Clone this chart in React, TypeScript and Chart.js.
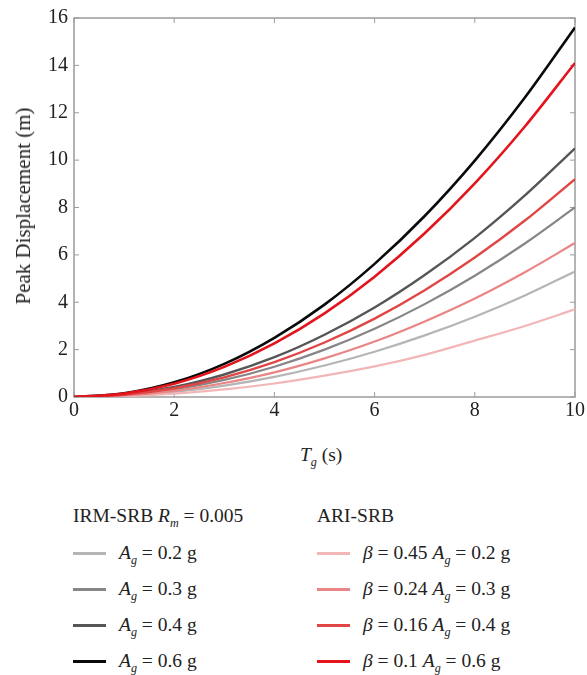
import React, { useEffect, useLayoutEffect, useRef } from "react";
import { Chart, registerables } from "chart.js";

Chart.register(...registerables);

// Periods T_g (s)
const periods = [0, 1, 2, 3, 4, 5, 6, 7, 8, 9, 10];

// IRM-SRB R_m = 0.005
const irmAg02 = [0, 0.05, 0.21, 0.48, 0.85, 1.33, 1.91, 2.6, 3.39, 4.29, 5.3];
const irmAg03 = [0, 0.08, 0.32, 0.72, 1.28, 2.0, 2.88, 3.92, 5.12, 6.48, 8.0];
const irmAg04 = [0, 0.105, 0.42, 0.95, 1.68, 2.63, 3.78, 5.15, 6.72, 8.51, 10.5];
const irmAg06 = [0, 0.156, 0.62, 1.4, 2.5, 3.9, 5.62, 7.64, 9.98, 12.64, 15.6];

// ARI-SRB
const ariB045 = [0, 0.035, 0.14, 0.32, 0.57, 0.9, 1.29, 1.78, 2.38, 3.0, 3.7];
const ariB024 = [0, 0.065, 0.26, 0.59, 1.04, 1.63, 2.34, 3.19, 4.16, 5.27, 6.5];
const ariB016 = [0, 0.092, 0.37, 0.83, 1.47, 2.3, 3.31, 4.51, 5.89, 7.45, 9.2];
const ariB01 = [0, 0.141, 0.56, 1.27, 2.26, 3.53, 5.08, 6.91, 9.02, 11.42, 14.1];

const xTicks = [0, 2, 4, 6, 8, 10];
const yTicks = [0, 2, 4, 6, 8, 10, 12, 14, 16];

const C_LG = "#b5b5b5";
const C_G = "#868686";
const C_DG = "#565656";
const C_BK = "#0a0a0a";
const C_R1 = "#f2b6b6";
const C_R2 = "#ea8585";
const C_R3 = "#e14646";
const C_R4 = "#e3141c";

const FONT = "'Liberation Serif', 'Times New Roman', serif";

const toPts = (ys: number[]) => periods.map((x, i) => ({ x, y: ys[i] }));

const framePlugin = {
  id: "framePlugin",
  beforeDatasetsDraw(chart: any) {
    const { ctx, chartArea: a, scales } = chart;
    const xs = scales.x;
    const ys = scales.y;
    ctx.save();
    ctx.strokeStyle = "#9c9c9c";
    ctx.lineWidth = 1.5;
    ctx.strokeRect(a.left, a.top, a.right - a.left, a.bottom - a.top);
    ctx.lineWidth = 1;
    const L = 5;
    xTicks.forEach((v) => {
      const px = xs.getPixelForValue(v);
      ctx.beginPath();
      ctx.moveTo(px, a.bottom);
      ctx.lineTo(px, a.bottom - L);
      ctx.moveTo(px, a.top);
      ctx.lineTo(px, a.top + L);
      ctx.stroke();
    });
    yTicks.forEach((v) => {
      const py = ys.getPixelForValue(v);
      ctx.beginPath();
      ctx.moveTo(a.left, py);
      ctx.lineTo(a.left + L, py);
      ctx.moveTo(a.right, py);
      ctx.lineTo(a.right - L, py);
      ctx.stroke();
    });
    ctx.restore();
  },
};

function Sub({ base, sub }: { base: string; sub: string }) {
  return (
    <span>
      <span style={{ fontStyle: "italic" }}>{base}</span>
      <span style={{ fontStyle: "italic", fontSize: "0.62em", verticalAlign: "-0.38em" }}>{sub}</span>
    </span>
  );
}

export default function App() {
  const ref = useRef<HTMLCanvasElement | null>(null);

  useLayoutEffect(() => {
    document.body.style.margin = "0";
    document.body.style.overflow = "hidden";
  }, []);

  useEffect(() => {
    if (!ref.current) return;
    const ds = (label: string, data: number[], color: string, width: number, order: number) => ({
      label,
      data: toPts(data),
      borderColor: color,
      backgroundColor: color,
      borderWidth: width,
      pointRadius: 0,
      fill: false,
      cubicInterpolationMode: "monotone" as const,
      order,
    });
    const chart = new Chart(ref.current, {
      type: "line",
      data: {
        datasets: [
          ds("β = 0.1 Ag = 0.6 g", ariB01, C_R4, 2.6, 1),
          ds("β = 0.16 Ag = 0.4 g", ariB016, C_R3, 2.4, 2),
          ds("β = 0.24 Ag = 0.3 g", ariB024, C_R2, 2.2, 3),
          ds("β = 0.45 Ag = 0.2 g", ariB045, C_R1, 2.2, 4),
          ds("Ag = 0.6 g", irmAg06, C_BK, 2.6, 5),
          ds("Ag = 0.4 g", irmAg04, C_DG, 2.4, 6),
          ds("Ag = 0.3 g", irmAg03, C_G, 2.2, 7),
          ds("Ag = 0.2 g", irmAg02, C_LG, 2.2, 8),
        ],
      },
      options: {
        responsive: false,
        animation: false,
        layout: { padding: { left: 0, right: 10, top: 14, bottom: 0 } },
        plugins: { legend: { display: false }, tooltip: { enabled: false } },
        scales: {
          x: {
            type: "linear",
            min: 0,
            max: 10,
            grid: { display: false, drawTicks: false },
            border: { display: false },
            afterBuildTicks: (s: any) => {
              s.ticks = xTicks.map((v) => ({ value: v }));
            },
            afterFit: (s: any) => {
              s.height = 43;
            },
            ticks: {
              color: "#222",
              font: { family: FONT, size: 20 },
              padding: 2,
              maxRotation: 0,
            },
          },
          y: {
            type: "linear",
            min: 0,
            max: 16,
            grid: { display: false, drawTicks: false },
            border: { display: false },
            afterBuildTicks: (s: any) => {
              s.ticks = yTicks.map((v) => ({ value: v }));
            },
            afterFit: (s: any) => {
              s.width = 74;
            },
            ticks: {
              color: "#222",
              font: { family: FONT, size: 20 },
              padding: 6,
            },
          },
        },
      },
      plugins: [framePlugin],
    });
    return () => chart.destroy();
  }, []);

  const txt: React.CSSProperties = {
    position: "absolute",
    fontFamily: FONT,
    fontSize: 19.5,
    color: "#222",
    lineHeight: "20px",
    whiteSpace: "nowrap",
  };

  const leftRows = [
    { color: C_LG, val: "0.2" },
    { color: C_G, val: "0.3" },
    { color: C_DG, val: "0.4" },
    { color: C_BK, val: "0.6" },
  ];
  const rightRows = [
    { color: C_R1, beta: "0.45", val: "0.2" },
    { color: C_R2, beta: "0.24", val: "0.3" },
    { color: C_R3, beta: "0.16", val: "0.4" },
    { color: C_R4, beta: "0.1", val: "0.6" },
  ];
  const rowY = [553, 589, 625, 661];

  return (
    <div style={{ position: "relative", width: 587, height: 675, overflow: "hidden" }}>
      <canvas
        ref={ref}
        width={587}
        height={440}
        style={{ position: "absolute", left: 0, top: 0, width: 587, height: 440 }}
      />
      <div
        style={{
          ...txt,
          fontSize: 21,
          left: 23,
          top: 206,
          transform: "translate(-50%, -50%) rotate(-90deg)",
        }}
      >
        Peak Displacement (m)
      </div>
      <div style={{ ...txt, left: 300, top: 445 }}>
        <Sub base="T" sub="g" /> (s)
      </div>
      <div style={{ ...txt, left: 73, top: 506 }}>
        IRM-SRB <Sub base="R" sub="m" /> = 0.005
      </div>
      <div style={{ ...txt, left: 317, top: 506 }}>ARI-SRB</div>
      {leftRows.map((r, i) => (
        <React.Fragment key={"l" + i}>
          <div
            style={{
              position: "absolute",
              left: 73,
              top: rowY[i] - 1.5,
              width: 33,
              height: 3,
              background: r.color,
            }}
          />
          <div style={{ ...txt, left: 119, top: rowY[i] - 10 }}>
            <Sub base="A" sub="g" /> = {r.val} g
          </div>
        </React.Fragment>
      ))}
      {rightRows.map((r, i) => (
        <React.Fragment key={"r" + i}>
          <div
            style={{
              position: "absolute",
              left: 317,
              top: rowY[i] - 1.5,
              width: 33,
              height: 3,
              background: r.color,
            }}
          />
          <div style={{ ...txt, left: 363, top: rowY[i] - 10 }}>
            <span style={{ fontStyle: "italic" }}>β</span> = {r.beta} <Sub base="A" sub="g" /> = {r.val} g
          </div>
        </React.Fragment>
      ))}
    </div>
  );
}
